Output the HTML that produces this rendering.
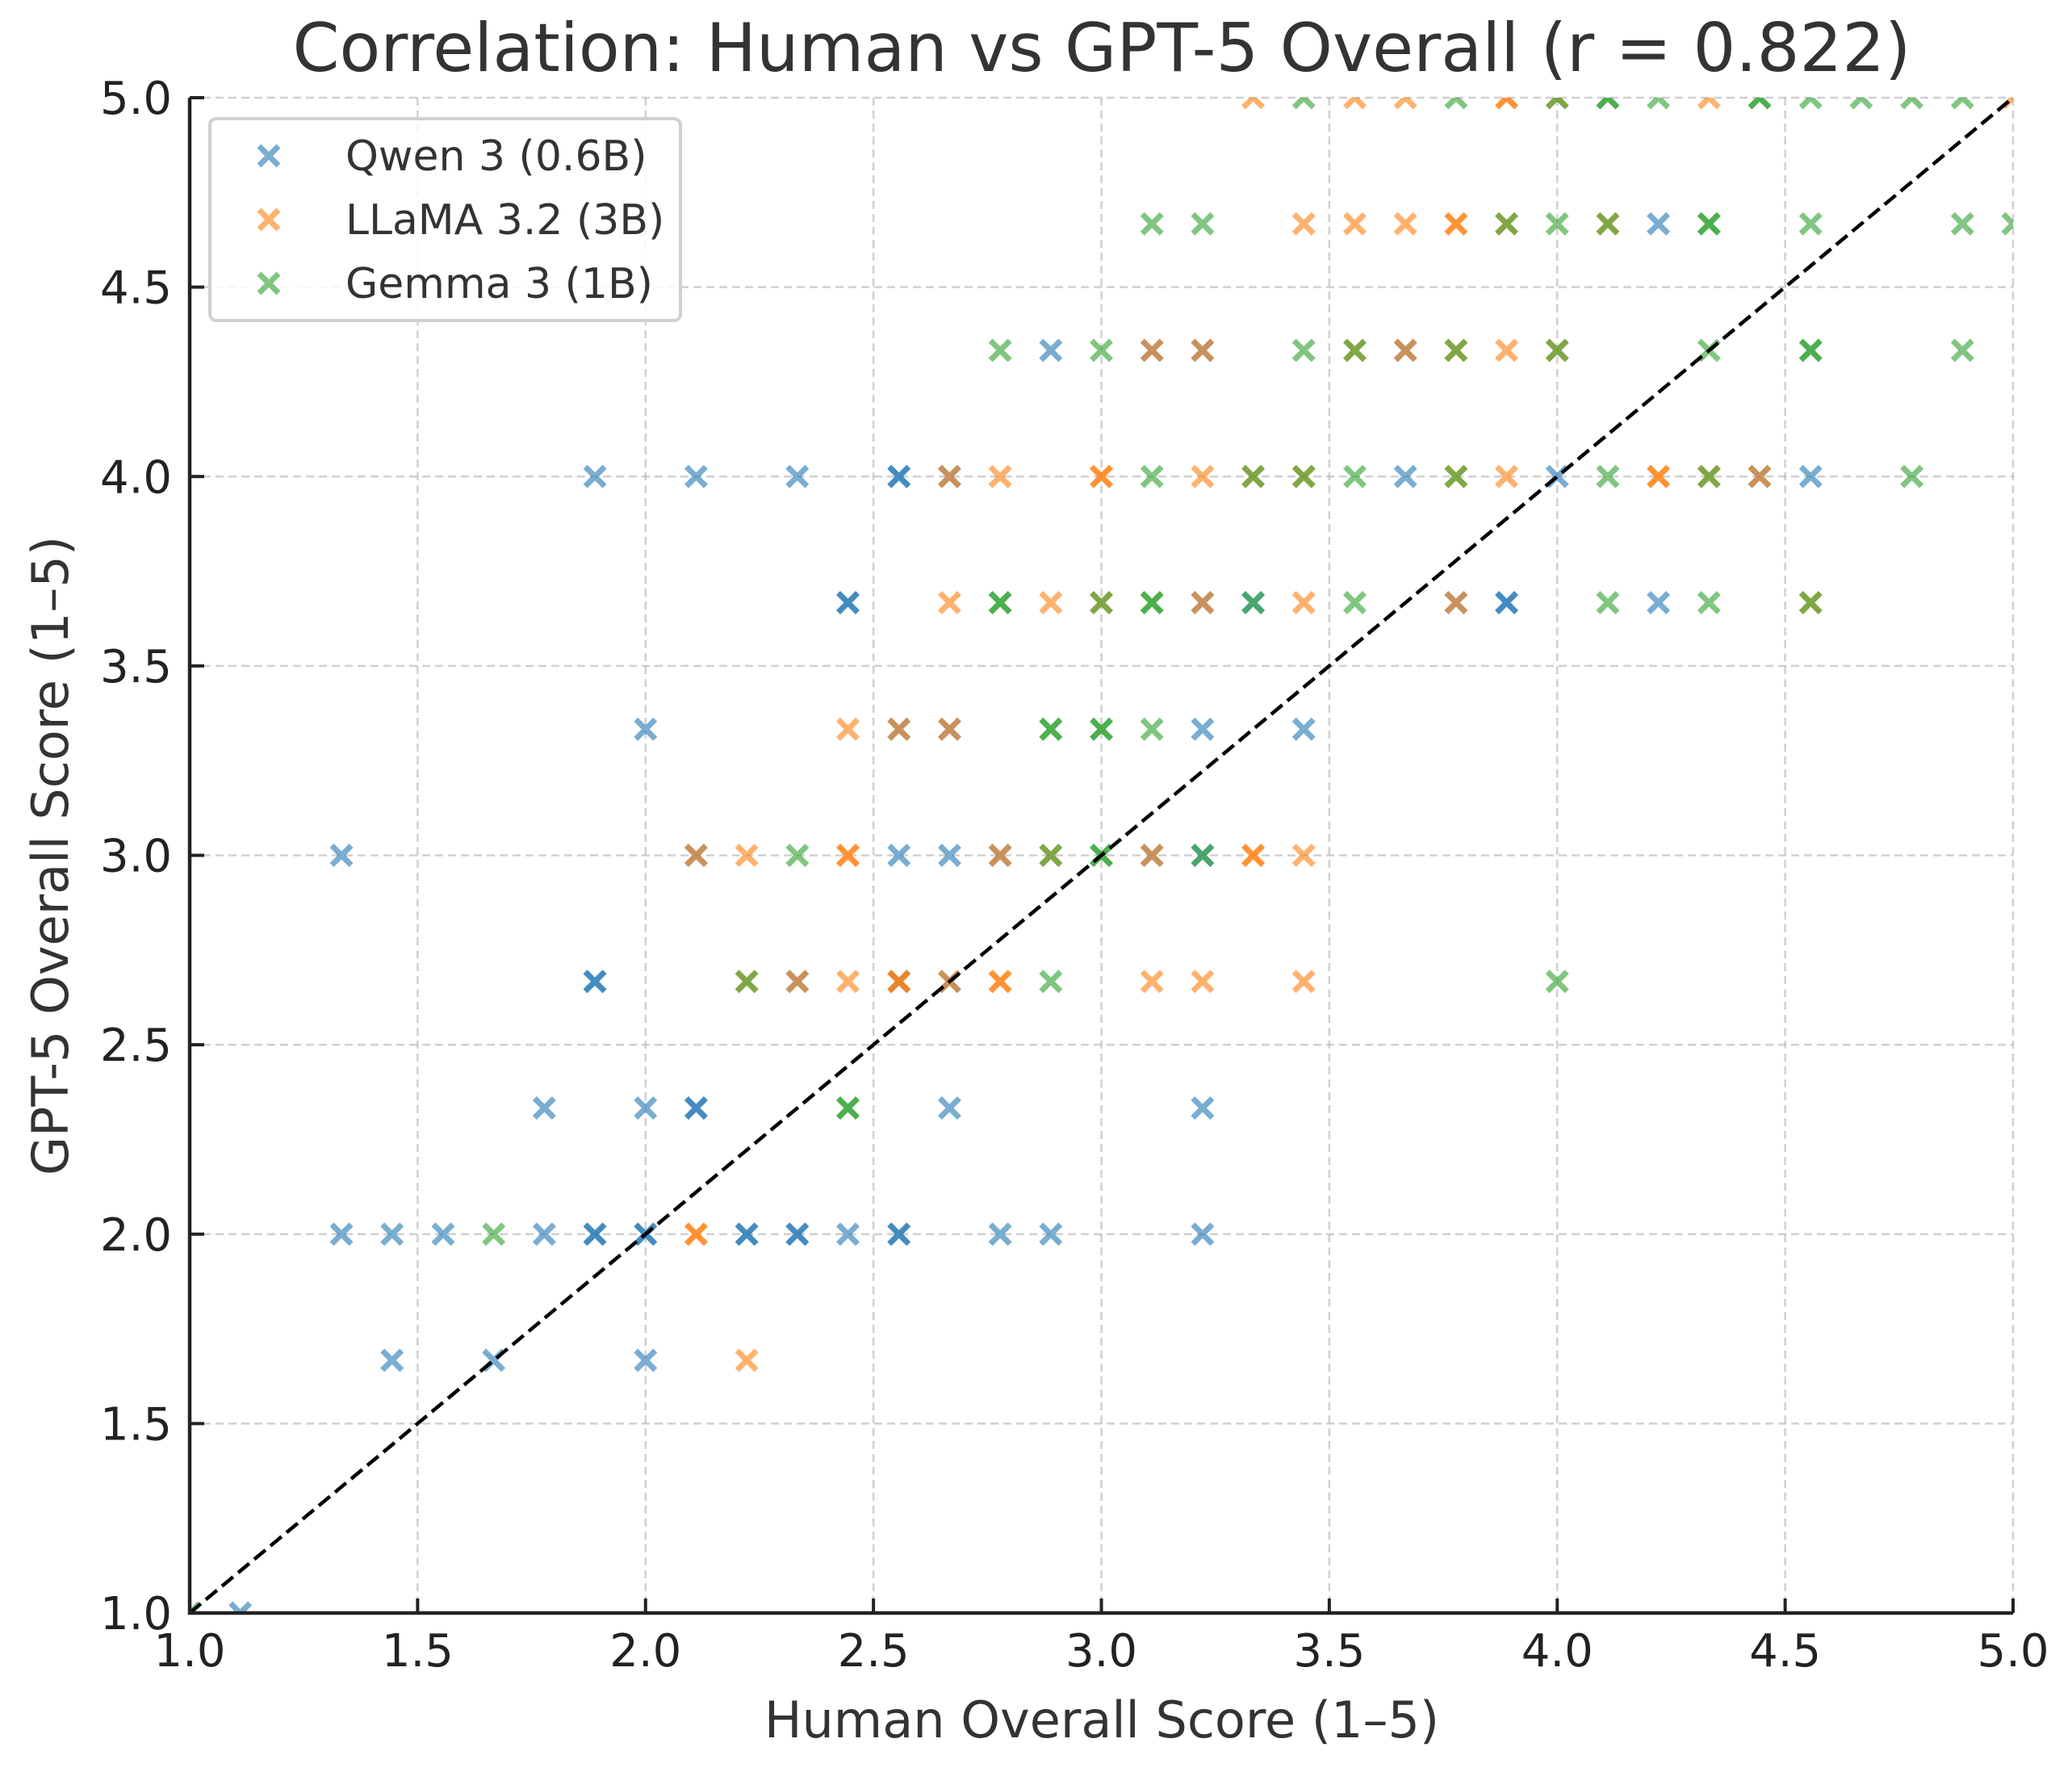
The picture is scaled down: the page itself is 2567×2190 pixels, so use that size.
<!DOCTYPE html>
<html><head><meta charset="utf-8"><style>
html,body{margin:0;padding:0;background:#fff;}
svg{display:block;font-family:"DejaVu Sans","Liberation Sans",sans-serif;}
</style></head><body>
<svg id="chart" width="2567" height="2190" viewBox="0 0 2567 2190" xmlns="http://www.w3.org/2000/svg">
<defs><clipPath id="plotclip"><rect x="235" y="121" width="2259" height="1877"/></clipPath></defs>
<rect width="2567" height="2190" fill="#fff"/>
<g id="grid"></g>
<g id="marks" clip-path="url(#plotclip)"></g>
<g id="axes"></g>
<text x="1365" y="88" text-anchor="middle" font-size="83" fill="#333">Correlation: Human vs GPT-5 Overall (r = 0.822)</text>
<text x="1365" y="2152" text-anchor="middle" font-size="62" fill="#333">Human Overall Score (1–5)</text>
<text x="0" y="0" transform="translate(84,1060) rotate(-90)" text-anchor="middle" font-size="62" fill="#333">GPT-5 Overall Score (1–5)</text>
<g id="legend">
<rect x="260" y="147" width="583" height="250" rx="8" fill="#fff" fill-opacity="0.85" stroke="#d0d0d0" stroke-width="4"/>
</g>
</svg>
<script>
const qwenX=[4.222,2.889,3.111,3.222,3.667,1.889,2.111,2.333,2.556,2.556,2.667,3.667,4.0,4.444,4.556,2.444,2.444,3.222,3.333,3.778,3.889,3.889,4.222,2.0,2.556,2.667,3.222,3.444,1.333,2.111,2.556,2.667,2.778,3.111,3.222,1.889,1.889,2.333,2.556,2.667,1.778,2.0,2.111,2.111,2.667,3.222,1.333,1.444,1.556,1.778,1.889,1.889,2.0,2.0,2.222,2.222,2.333,2.333,2.444,2.556,2.556,2.778,2.889,3.222,1.444,1.667,2.0,1.111];
const qwenY=[4.667,4.333,4.333,4.333,4.333,4,4,4,4,4,4,4,4,4,4,3.667,3.667,3.667,3.667,3.667,3.667,3.667,3.667,3.333,3.333,3.333,3.333,3.333,3,3,3,3,3,3,3,2.667,2.667,2.667,2.667,2.667,2.333,2.333,2.333,2.333,2.333,2.333,2,2,2,2,2,2,2,2,2,2,2,2,2,2,2,2,2,2,1.667,1.667,1.667,1];
const llamaX=[3.333,3.556,3.667,3.889,3.889,4.0,4.333,5.0,3.444,3.556,3.667,3.778,3.778,3.889,4.111,3.111,3.222,3.556,3.667,3.778,3.889,4.0,2.667,2.778,3.0,3.0,3.222,3.333,3.444,3.778,3.889,4.222,4.222,4.333,4.444,2.667,2.889,3.0,3.222,3.444,3.778,4.556,2.444,2.556,2.667,2.111,2.222,2.444,2.444,2.778,2.889,3.111,3.333,3.333,3.444,2.222,2.333,2.444,2.556,2.556,2.667,2.778,2.778,3.111,3.222,3.444,2.111,2.111,2.222];
const llamaY=[5,5,5,5,5,5,5,5,4.667,4.667,4.667,4.667,4.667,4.667,4.667,4.333,4.333,4.333,4.333,4.333,4.333,4.333,4,4,4,4,4,4,4,4,4,4,4,4,4,3.667,3.667,3.667,3.667,3.667,3.667,3.667,3.333,3.333,3.333,3,3,3,3,3,3,3,3,3,3,2.667,2.667,2.667,2.667,2.667,2.667,2.667,2.667,2.667,2.667,2.667,2,2,1.667];
const gemmaX=[3.444,3.778,4.0,4.111,4.111,4.222,4.444,4.444,4.556,4.667,4.778,4.889,3.111,3.222,3.889,4.0,4.111,4.333,4.333,4.556,4.889,5.0,2.778,3.0,3.444,3.556,3.778,4.0,4.333,4.556,4.556,4.889,3.111,3.333,3.444,3.556,3.778,4.111,4.333,4.778,2.778,2.778,3.0,3.111,3.111,3.333,3.556,4.111,4.333,4.556,2.889,2.889,3.0,3.0,3.111,2.333,2.889,3.0,3.0,3.222,2.222,2.889,4.0,2.444,2.444,1.667,1.0];
const gemmaY=[5,5,5,5,5,5,5,5,5,5,5,5,4.667,4.667,4.667,4.667,4.667,4.667,4.667,4.667,4.667,4.667,4.333,4.333,4.333,4.333,4.333,4.333,4.333,4.333,4.333,4.333,4,4,4,4,4,4,4,4,3.667,3.667,3.667,3.667,3.667,3.667,3.667,3.667,3.667,3.667,3.333,3.333,3.333,3.333,3.333,3,3,3,3,3,2.667,2.667,2.667,2.333,2.333,2,1];
const tickVals=[1.0,1.5,2.0,2.5,3.0,3.5,4.0,4.5,5.0];
const tickLabels=["1.0","1.5","2.0","2.5","3.0","3.5","4.0","4.5","5.0"];
const seriesNames=["Qwen 3 (0.6B)","LLaMA 3.2 (3B)","Gemma 3 (1B)"];

const L=235,R=2494,T=121,B=1998;
const sx=v=>L+(v-1)/4*(R-L);
const sy=v=>B-(v-1)/4*(B-T);
const NS="http://www.w3.org/2000/svg";
function mk(tag,parent,attrs){const e=document.createElementNS(NS,tag);for(const k in attrs)e.setAttribute(k,attrs[k]);parent.appendChild(e);return e;}
const grid=document.getElementById('grid'),axes=document.getElementById('axes'),marks=document.getElementById('marks'),legend=document.getElementById('legend');
tickVals.forEach((v,i)=>{
  const gx=mk('line',grid,{x1:sx(v),x2:sx(v),y1:T,y2:B,stroke:'#b0b0b0','stroke-opacity':0.6,'stroke-width':2.5,'stroke-dasharray':'10 6'});
  
  
  const gy=mk('line',grid,{x1:L,x2:R,y1:sy(v),y2:sy(v),stroke:'#b0b0b0','stroke-opacity':0.6,'stroke-width':2.5,'stroke-dasharray':'10 6'});
  
  
  const tx=mk('line',axes,{x1:sx(v),x2:sx(v),y1:B,y2:B-18,stroke:'#222','stroke-width':4});
  
  
  const ty=mk('line',axes,{x1:L,x2:L+18,y1:sy(v),y2:sy(v),stroke:'#222','stroke-width':4});
  
  
  const lx=mk('text',axes,{x:sx(v),y:B+66,'text-anchor':'middle','font-size':56,fill:'#222'});
  lx.textContent=tickLabels[i];
  
  
  const ly=mk('text',axes,{x:L-22,y:sy(v)+20,'text-anchor':'end','font-size':56,fill:'#222'});
  ly.textContent=tickLabels[i];
  
  
});
const colors=['#1f77b4','#ff7f0e','#2ca02c'];
const series=[[qwenX,qwenY],[llamaX,llamaY],[gemmaX,gemmaY]];
const h=12;
function cross(parent,x,y,c){return mk('path',parent,{d:`M${x-h},${y-h}L${x+h},${y+h}M${x-h},${y+h}L${x+h},${y-h}`,stroke:c,'stroke-width':7,'stroke-opacity':0.6,fill:'none'});}
series.forEach((s,si)=>{
  s[0].forEach((xv,i)=>{
    const p=cross(marks,sx(xv),sy(s[1][i]),colors[si]);
    
    
  });
});
const diag=mk('line',marks,{x1:sx(1),y1:sy(1),x2:sx(5),y2:sy(5),stroke:'#000','stroke-width':4.5,'stroke-dasharray':'18 8'});


const sl=mk('line',axes,{x1:L,x2:L,y1:T,y2:B+2,stroke:'#222','stroke-width':4.5});


const sb=mk('line',axes,{x1:L-2,x2:R,y1:B,y2:B,stroke:'#222','stroke-width':4.5});


seriesNames.forEach((n,i)=>{
  const y=193+i*79;
  const m=cross(legend,333,y,colors[i]);
  
  
  const t=mk('text',legend,{x:428,y:y+18,'font-size':52,fill:'#333'});
  t.textContent=n;
  
  
});
</script>
</body></html>
